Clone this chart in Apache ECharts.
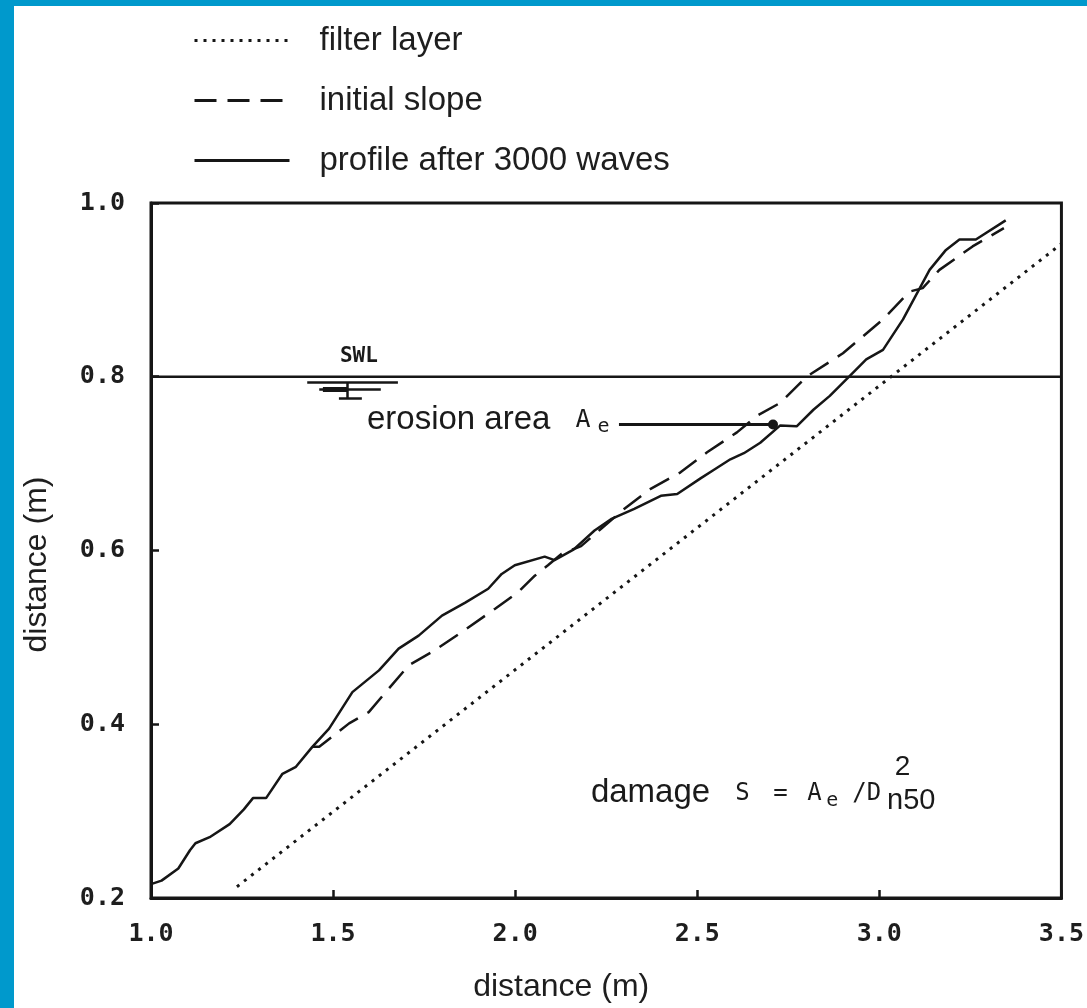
<!DOCTYPE html>
<html>
<head>
<meta charset="utf-8">
<title>Breakwater profile</title>
<script src="https://cdn.jsdelivr.net/npm/echarts@6.0.0/dist/echarts.min.js"></script>
<style>
  html, body { margin: 0; padding: 0; background: #ffffff; }
  #chart { position: absolute; left: 0; top: 0; width: 1087px; height: 1008px; }
  .edge { position: absolute; background: #0099cc; }
  #edgeLeft { left: 0; top: 0; width: 14px; height: 1008px; }
  #edgeTop { left: 0; top: 0; width: 1087px; height: 6px; }
</style>
</head>
<body>
<div id="chart"></div>
<div class="edge" id="edgeLeft"></div>
<div class="edge" id="edgeTop"></div>
<script>
// Axis ranges (m)
const xRange = [1.0, 3.5];
const yRange = [0.2, 1.0];
const xStep = 0.5;
const yStep = 0.2;

// Still water level (m)
const swlLevel = 0.8;

// Filter layer underneath the armour
const filterLayer = [
  [1.236, 0.213], [3.5, 0.953]
];

// Initial slope surface
const initialSlope = [
  [1.443, 0.374], [1.462, 0.374], [1.544, 0.401], [1.598, 0.414], [1.653, 0.441],
  [1.708, 0.468], [1.771, 0.483], [1.853, 0.506], [1.945, 0.533], [2.008, 0.552],
  [2.054, 0.571], [2.090, 0.583], [2.127, 0.596], [2.181, 0.605], [2.236, 0.625],
  [2.300, 0.648], [2.372, 0.671], [2.454, 0.690], [2.527, 0.713], [2.609, 0.736],
  [2.664, 0.755], [2.728, 0.770], [2.800, 0.800], [2.900, 0.827], [3.010, 0.866],
  [3.083, 0.898], [3.119, 0.902], [3.165, 0.923], [3.256, 0.950], [3.342, 0.971]
];

// Measured profile after 3000 waves
const profileAfter = [
  [1.000, 0.216], [1.029, 0.220], [1.075, 0.234], [1.107, 0.255], [1.122, 0.263],
  [1.161, 0.270], [1.216, 0.285], [1.255, 0.302], [1.280, 0.315], [1.316, 0.315],
  [1.361, 0.343], [1.398, 0.351], [1.443, 0.374], [1.489, 0.395], [1.553, 0.437],
  [1.626, 0.462], [1.680, 0.487], [1.735, 0.502], [1.799, 0.525], [1.863, 0.540],
  [1.926, 0.556], [1.963, 0.573], [1.999, 0.583], [2.081, 0.593], [2.108, 0.589],
  [2.160, 0.601], [2.218, 0.623], [2.263, 0.636], [2.327, 0.648], [2.400, 0.663],
  [2.445, 0.665], [2.509, 0.683], [2.546, 0.693], [2.591, 0.705], [2.628, 0.712],
  [2.673, 0.724], [2.728, 0.744], [2.773, 0.743], [2.819, 0.762], [2.864, 0.778],
  [2.919, 0.801], [2.964, 0.820], [3.010, 0.831], [3.065, 0.866], [3.138, 0.923],
  [3.183, 0.946], [3.220, 0.958], [3.265, 0.958], [3.347, 0.980]
];

// Pointer from the "erosion area" label to the eroded zone
const erosionPointer = [[2.285, 0.745], [2.708, 0.745]];

// Water-level symbol bars below the SWL line
const swlBars = [
  [[1.429, 0.7937], [1.678, 0.7937]],
  [[1.462, 0.7855], [1.631, 0.7855]],
  [[1.472, 0.7860], [1.540, 0.7860]],
  [[1.516, 0.7753], [1.579, 0.7753]],
  [[1.538, 0.7937], [1.538, 0.7753]]
];

// Text anchors (data coordinates)
const notes = [
  { name: 'swl', value: [1.571, 0.823] },
  { name: 'erosion', value: [1.593, 0.750] },
  { name: 'damage', value: [2.208, 0.3205] },
  { name: 'square', value: [3.064, 0.351] }
];

const seriesNames = ['filter layer', 'initial slope', 'profile after 3000 waves'];

const ink = '#161616';
const sans = '"Liberation Sans", Arial, sans-serif';
const mono = '"DejaVu Sans Mono", monospace';

const dotted = [3, 6];
const dashed = [22, 11];

const chart = echarts.init(document.getElementById('chart'), null, { renderer: 'canvas' });

const noteLabels = {
  swl: { formatter: 'SWL', position: 'inside', fontFamily: mono, fontWeight: 'bold', fontSize: 21 },
  erosion: { formatter: 'erosion area{A|A}{s|e}', position: 'right' },
  damage: { formatter: 'damage{S|S}{E|=}{A2|A}{s|e}{D|/D}{n|n50}', position: 'right' },
  square: { formatter: '2', position: 'inside', fontSize: 28 }
};

const option = {
  backgroundColor: '#ffffff',
  animation: false,
  legend: {
    orient: 'vertical',
    left: 188,
    top: 19,
    itemWidth: 95,
    itemHeight: 14,
    itemGap: 27,
    selectedMode: false,
    itemStyle: { opacity: 0 },
    data: [
      { name: seriesNames[0], lineStyle: { width: 3, type: dotted, color: ink } },
      { name: seriesNames[1], lineStyle: { width: 3, type: dashed, color: ink } },
      { name: seriesNames[2], lineStyle: { width: 3, type: 'solid', color: ink } }
    ],
    textStyle: { fontFamily: sans, fontSize: 33, color: '#1e1e1e', padding: [0, 0, 0, 25] }
  },
  grid: {
    left: 151, top: 203, width: 915, height: 697,
    show: true, borderColor: ink, borderWidth: 3, backgroundColor: 'transparent'
  },
  xAxis: {
    type: 'value', min: xRange[0], max: xRange[1], interval: xStep,
    name: 'distance (m)', nameLocation: 'middle', nameGap: 73, nameMoveOverlap: false,
    nameTextStyle: { fontFamily: sans, fontSize: 32, color: '#1e1e1e', padding: [0, 90, 0, 0] },
    axisLine: { show: true, lineStyle: { color: ink, width: 3 } },
    axisTick: { show: true, inside: true, length: 8, lineStyle: { color: ink, width: 2.5 } },
    axisLabel: { margin: 24, fontFamily: mono, fontWeight: 'bold', fontSize: 25, color: '#1e1e1e',
      formatter: v => v.toFixed(1) },
    splitLine: { show: false }
  },
  yAxis: {
    type: 'value', min: yRange[0], max: yRange[1], interval: yStep,
    name: 'distance (m)', nameLocation: 'middle', nameGap: 98, nameRotate: 90, nameMoveOverlap: false,
    nameTextStyle: { fontFamily: sans, fontSize: 32, color: '#1e1e1e', padding: [0, 28, 0, 0] },
    axisLine: { show: true, lineStyle: { color: ink, width: 3 } },
    axisTick: { show: true, inside: true, length: 8, lineStyle: { color: ink, width: 2.5 } },
    axisLabel: { margin: 26, fontFamily: mono, fontWeight: 'bold', fontSize: 25, color: '#1e1e1e',
      formatter: v => v.toFixed(1) },
    splitLine: { show: false }
  },
  series: [
    {
      name: seriesNames[0], type: 'line', data: filterLayer, symbol: 'none', silent: true,
      lineStyle: { color: ink, width: 3, type: dotted }
    },
    {
      name: seriesNames[1], type: 'line', data: initialSlope, symbol: 'none', silent: true,
      lineStyle: { color: ink, width: 2.5, type: dashed }
    },
    {
      name: seriesNames[2], type: 'line', data: profileAfter, symbol: 'none', silent: true,
      lineStyle: { color: ink, width: 2.5 }
    },
    {
      name: 'SWL', type: 'line', data: [[xRange[0], swlLevel], [xRange[1], swlLevel]],
      symbol: 'none', silent: true, lineStyle: { color: ink, width: 2.5 }
    },
    {
      name: 'pointer', type: 'line', data: erosionPointer, silent: true,
      symbol: (v, p) => (p.dataIndex === erosionPointer.length - 1 ? 'circle' : 'none'),
      symbolSize: 10, showSymbol: true,
      itemStyle: { color: ink, borderWidth: 0 }, lineStyle: { color: ink, width: 3 }
    },
    {
      name: 'swlBars', type: 'lines', coordinateSystem: 'cartesian2d', silent: true,
      data: swlBars.map((c, i) => ({
        coords: c,
        lineStyle: { width: i === 2 ? 5 : 2.5 }
      })),
      lineStyle: { color: ink, width: 2.5, opacity: 1 }
    },
    {
      name: 'notes', type: 'scatter', silent: true, symbolSize: 0,
      itemStyle: { opacity: 1 },
      data: notes.map(n => ({
        name: n.name,
        value: n.value,
        label: Object.assign({
          show: true, distance: 0, color: '#1a1a1a', fontFamily: sans, fontSize: 33,
          rich: {
            A: { fontFamily: mono, fontSize: 25, color: '#1a1a1a', padding: [0, 0, 0, 25], width: 18 },
            S: { fontFamily: mono, fontSize: 24, color: '#1a1a1a', padding: [0, 0, 0, 25], width: 38 },
            E: { fontFamily: mono, fontSize: 24, color: '#1a1a1a', width: 34 },
            A2: { fontFamily: mono, fontSize: 24, color: '#1a1a1a', width: 15 },
            s: { fontFamily: mono, fontSize: 20, color: '#1a1a1a', padding: [14, 0, 0, 4] },
            D: { fontFamily: mono, fontSize: 24, color: '#1a1a1a', padding: [0, 0, 0, 14] },
            n: { fontFamily: sans, fontSize: 29, color: '#1a1a1a', padding: [16, 0, 0, 6] }
          }
        }, noteLabels[n.name])
      }))
    }
  ]
};

chart.setOption(option);
</script>
</body>
</html>
